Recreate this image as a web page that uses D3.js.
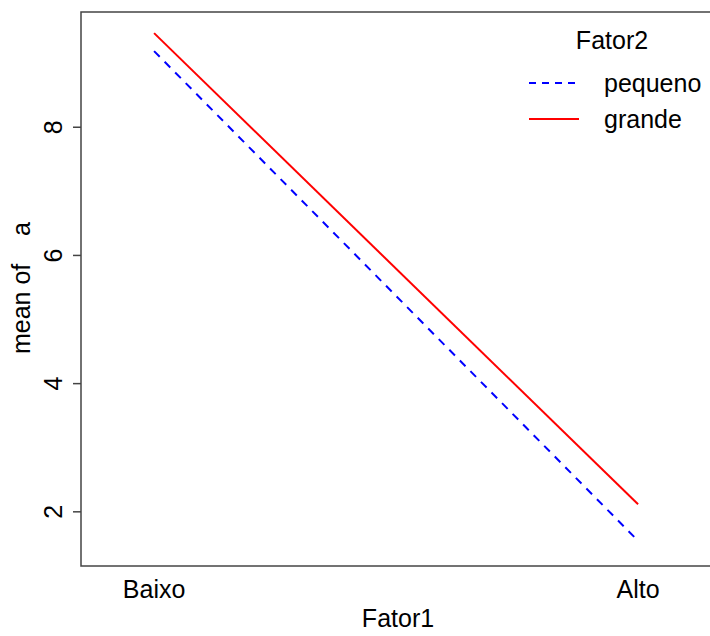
<!DOCTYPE html>
<html>
<head>
<meta charset="utf-8">
<script src="https://cdn.jsdelivr.net/npm/d3@7"></script>
<style>
  body { margin: 0; background: #fff; }
  text { font-family: "Liberation Sans", Arial, sans-serif; fill: #000; }
</style>
</head>
<body>
<div id="chart"></div>
<script>
// interaction plot data: mean of a by Fator1 x Fator2
const fator1 = ["Baixo", "Alto"];
const seriesNames = ["pequeno", "grande"];
const pequeno = [9.18, 1.54];
const grande = [9.46, 2.11];
const yTicks = [2, 4, 6, 8];

const width = 710, height = 636;
const margin = { left: 81, top: 12, right: -6, bottom: 70 };

const svg = d3.select("#chart")
  .append("svg")
  .attr("width", width)
  .attr("height", height);

// x positions 1..2 in R units, with the legend room on the right
const x = d3.scaleLinear()
  .domain([0.849, 2.161])
  .range([margin.left, width - margin.right]);
const y = d3.scaleLinear()
  .domain([1.147, 9.79])
  .range([height - margin.bottom, margin.top]);

// box
svg.append("rect")
  .attr("x", margin.left)
  .attr("y", margin.top)
  .attr("width", width - margin.right - margin.left)
  .attr("height", height - margin.bottom - margin.top)
  .attr("fill", "none")
  .attr("stroke", "#444")
  .attr("stroke-width", 1.5);

// y axis
const yAxis = svg.append("g")
  .attr("transform", `translate(${margin.left},0)`)
  .call(d3.axisLeft(y).tickValues(yTicks).tickSize(8).tickFormat(d3.format("d")));
yAxis.select(".domain").remove();
yAxis.selectAll(".tick line").attr("stroke", "#444").attr("stroke-width", 1.5);
yAxis.selectAll(".tick text")
  .attr("x", null).attr("dy", null)
  .attr("transform", "translate(-19,0) rotate(-90)")
  .attr("text-anchor", "middle")
  .attr("font-size", 25)
  .attr("font-family", "Liberation Sans, Arial, sans-serif")
  .attr("fill", "#000");

// x axis labels (no ticks, like interaction.plot)
svg.append("g")
  .selectAll("text")
  .data(fator1)
  .enter().append("text")
  .attr("x", (d, i) => x(i + 1))
  .attr("y", 598)
  .attr("text-anchor", "middle")
  .attr("font-size", 25)
  .text(d => d);

// axis titles
svg.append("text")
  .attr("x", 398)
  .attr("y", 627)
  .attr("text-anchor", "middle")
  .attr("font-size", 25)
  .text("Fator1");

svg.append("text")
  .attr("transform", "translate(30,288) rotate(-90)")
  .attr("text-anchor", "middle")
  .attr("font-size", 25)
  .style("white-space", "pre")
  .text("mean of    a");

// lines
const line = d3.line()
  .x((d, i) => x(i + 1))
  .y(d => y(d));

const series = [
  { name: seriesNames[0], values: pequeno, color: "#0000ff", dash: "8,7" },
  { name: seriesNames[1], values: grande, color: "#ff0000", dash: null }
];

svg.append("g")
  .selectAll("path")
  .data(series)
  .enter().append("path")
  .attr("d", d => line(d.values))
  .attr("fill", "none")
  .attr("stroke", d => d.color)
  .attr("stroke-width", 2)
  .attr("stroke-dasharray", d => d.dash);

// legend
const legend = svg.append("g");
legend.append("text")
  .attr("x", 612)
  .attr("y", 49)
  .attr("text-anchor", "middle")
  .attr("font-size", 25)
  .text("Fator2");

const items = legend.selectAll("g.item")
  .data(series)
  .enter().append("g")
  .attr("class", "item")
  .attr("transform", (d, i) => `translate(0,${83 + i * 36})`);

items.append("line")
  .attr("x1", 529).attr("x2", 579)
  .attr("y1", 0).attr("y2", 0)
  .attr("stroke", d => d.color)
  .attr("stroke-width", 2)
  .attr("stroke-dasharray", d => d.dash ? "7,6" : null);

items.append("text")
  .attr("x", 604)
  .attr("y", 0)
  .attr("dy", "0.35em")
  .attr("font-size", 25)
  .text(d => d.name);
</script>
</body>
</html>
